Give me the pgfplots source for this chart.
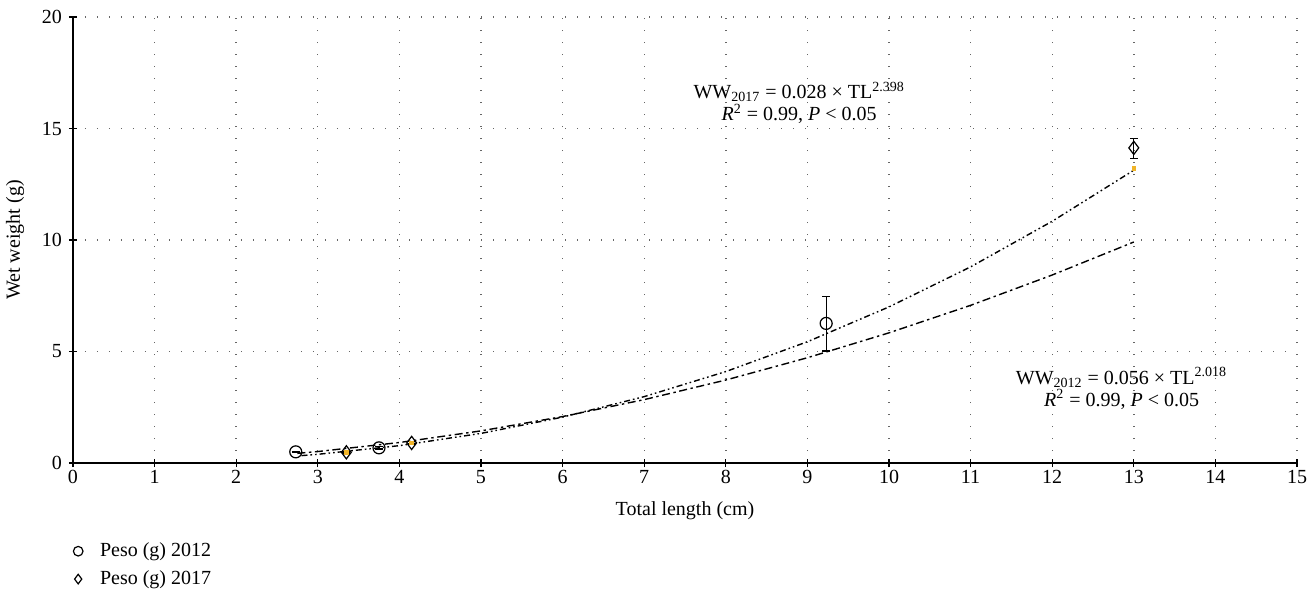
\documentclass[border=0pt]{standalone}
\usepackage{fontspec}
\setmainfont{Liberation Serif}
\usepackage{pgfplots}
\pgfplotsset{compat=1.18}
\definecolor{naranja}{RGB}{240,180,40}
\begin{document}
\begin{tikzpicture}
\path[use as bounding box] (-36.5pt,-69pt) rectangle (617.5pt,231.5pt);
\begin{axis}[
  anchor=south west, at={(0,0)}, scale only axis,
  width=612pt, height=223pt,
  xmin=0, xmax=15, ymin=0, ymax=20,
  xtick={0,1,...,15}, ytick={0,5,10,15,20},
  axis x line*=bottom, axis y line*=left,
  tick align=center, major tick length=4pt,
  tick style={black, line width=0.6pt},
  axis line style={line width=0.6pt},
  grid=major,
  major grid style={gray!80!black, line width=0.7pt, dash pattern=on 0.7pt off 5.3pt},
  /pgf/number format/assume math mode=true,
  tick label style={font=\fontsize{10}{12}\selectfont},
  xticklabel style={yshift=2pt},
  label style={font=\fontsize{10}{12}\selectfont},
  xlabel={Total length (cm)}, ylabel={Wet weight (g)},
  xlabel style={at={(axis description cs:0.5,-0.07)}, anchor=north},
  ylabel style={at={(axis description cs:-0.0474,0.5)}, anchor=center},
  legend style={draw=none, fill=none, at={(axis description cs:-0.0049,-0.16)}, anchor=north west,
    font=\fontsize{10}{12}\selectfont, row sep=1.5pt,
    legend cell align=left},
  legend image code/.code={\node[draw=none, fill=none, inner sep=0pt, outer sep=0pt, minimum width=2pt, minimum height=1pt] at (7.9pt,0) {};
    \draw[#1, mark size=2.4pt] plot coordinates {(1pt,0)};},
  clip=false,
]
% 2012 data
\addplot[only marks, mark=o, mark size=3pt, black, line width=0.6pt,
  error bars/.cd, y dir=both, y explicit,
  error bar style={line width=0.6pt},
  error mark options={rotate=90, mark size=2pt, line width=0.6pt}]
  coordinates {
  (2.73,0.50) +- (0,0.02)
  (3.75,0.68) +- (0,0.05)
  (9.23,6.26) += (0,1.20) -= (0,1.24)
};
\addlegendentry{Peso (g) 2012}
% 2017 data
\addplot[only marks, mark=diamond, mark size=3.3pt, black, line width=0.6pt,
  error bars/.cd, y dir=both, y explicit,
  error bar style={line width=0.6pt},
  error mark options={rotate=90, mark size=2pt, line width=0.6pt}]
  coordinates {
  (3.35,0.48) +- (0,0.03)
  (4.15,0.90) +- (0,0.05)
  (13.0,14.13) += (0,0.42) -= (0,0.47)
};
\addlegendentry{Peso (g) 2017}
\addplot[only marks, mark=square*, mark size=0.9pt, naranja, forget plot]
  coordinates {(3.35,0.48) (4.15,0.90) (13.0,13.2)};
% fitted curves
\addplot[black, line width=0.7pt, dash pattern=on 4pt off 1.8pt on 1.2pt off 1.8pt, forget plot]
  coordinates {
  (2.75,0.433) (3,0.514) (4,0.919) (5,1.441) (6,2.083) (7,2.842) (8,3.721)
  (9,4.720) (10,5.837) (11,7.07) (12,8.43) (13,9.91)
};
\addplot[black, line width=0.7pt, dash pattern=on 3pt off 1.5pt on 0.8pt off 1.5pt on 0.8pt off 1.5pt, forget plot]
  coordinates {
  (2.8,0.331) (3,0.390) (4,0.778) (5,1.328) (6,2.057) (7,2.977) (8,4.100)
  (9,5.438) (10,7.000) (11,8.795) (12,10.84) (13,13.13)
};
\node[align=center, font=\fontsize{10}{11}\selectfont] at (axis cs:8.9,16.15)
  {WW\textsubscript{2017} = 0.028 × TL\textsuperscript{2.398}\\\textit{R}\textsuperscript{2} = 0.99, \textit{P} < 0.05};
\node[align=center, font=\fontsize{10}{11}\selectfont] at (axis cs:12.85,3.35)
  {WW\textsubscript{2012} = 0.056 × TL\textsuperscript{2.018}\\\textit{R}\textsuperscript{2} = 0.99, \textit{P} < 0.05};
\end{axis}
\end{tikzpicture}
\end{document}
